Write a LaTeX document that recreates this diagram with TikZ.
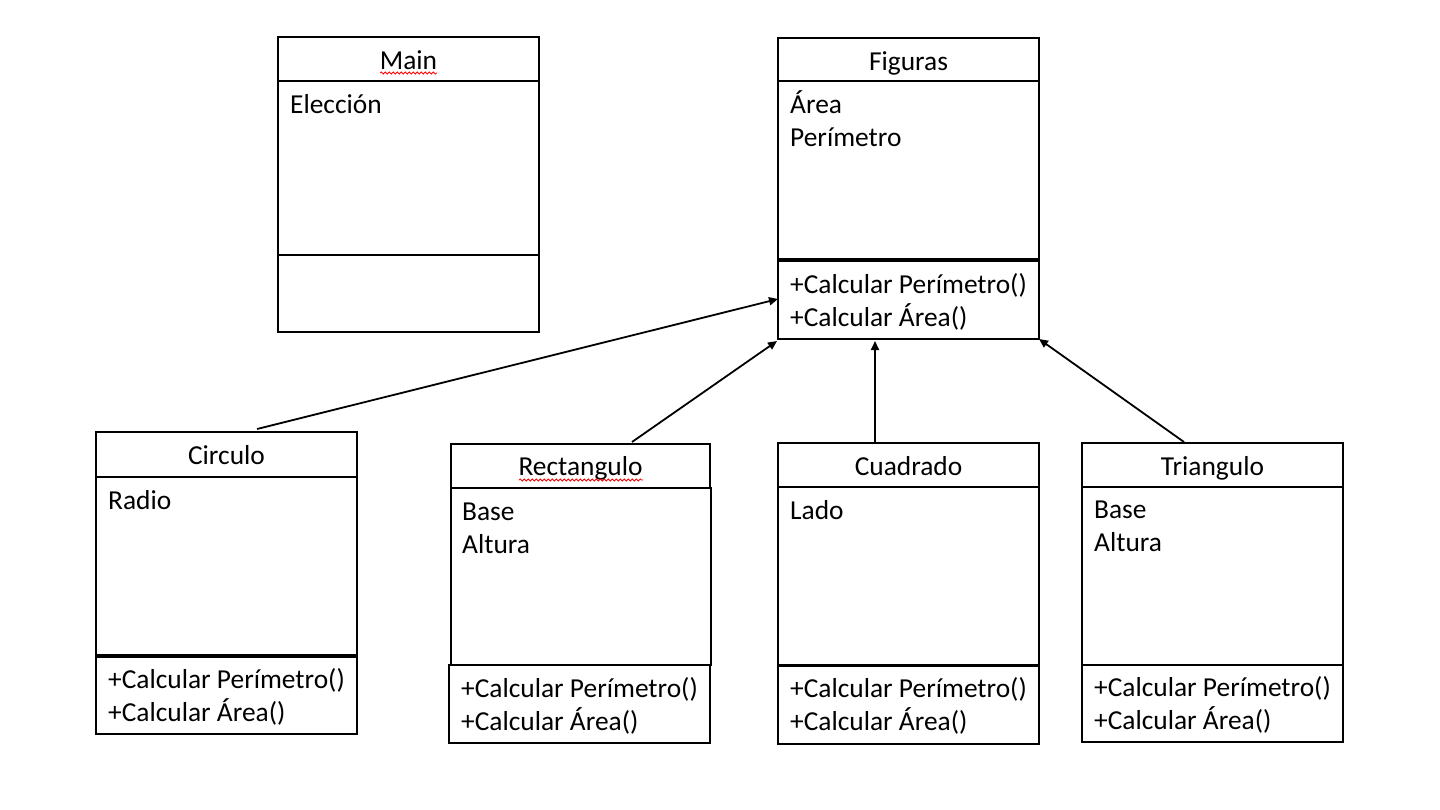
\documentclass[tikz,border=0pt]{standalone}
\usepackage{fontspec}
\setmainfont{Carlito}
\usetikzlibrary{arrows.meta,decorations.pathmorphing}
\begin{document}
\begin{tikzpicture}[x=1pt,y=-1pt,
 box/.style={draw, line width=2.2pt, anchor=north west, inner sep=0pt, outer sep=0pt},
 ttl/.style={anchor=base, inner sep=0pt, font=\fontsize{27.4}{33}\selectfont},
 txt/.style={anchor=base west, inner sep=0pt, font=\fontsize{27.4}{33}\selectfont},
 link/.style={line width=1.8pt, -{Triangle[length=9pt,width=8pt]}},
 thick sep/.style={line width=4pt},
 spell/.style={red, line width=0.8pt, decorate, decoration={snake, amplitude=1pt, segment length=4pt}}
]
\useasboundingbox[fill=white] (0,0) rectangle (1440,809);

% Main
\node[box, minimum width=261pt, minimum height=44pt] (maint) at (278,37) {};
\node[box, minimum width=261pt, minimum height=174pt] (maina) at (278,81) {};
\node[box, minimum width=261pt, minimum height=77pt] (mainm) at (278,255) {};
\node[ttl] (mainlbl) at (408.5,69) {Main};
\node[txt] (mainat1) at (290,113) {Elección};

% Figuras
\node[box, minimum width=261pt, minimum height=43pt] (figt) at (778,38) {};
\node[box, minimum width=261pt, minimum height=179pt] (figa) at (778,81) {};
\node[box, minimum width=261pt, minimum height=79pt] (figm) at (778,260) {};
\draw[thick sep] (figa.south west) -- (figa.south east);
\node[ttl] (figlbl) at (908.5,70) {Figuras};
\node[txt] (figat1) at (790,113) {Área};
\node[txt] (figat2) at (790,146) {Perímetro};
\node[txt] (figm1) at (790,293) {+Calcular Perímetro()};
\node[txt] (figm2) at (790,326) {+Calcular Área()};

% Circulo
\node[box, minimum width=261pt, minimum height=45pt] (cirt) at (96,432) {};
\node[box, minimum width=261pt, minimum height=179pt] (cira) at (96,477) {};
\node[box, minimum width=261pt, minimum height=78pt] (cirm) at (96,656) {};
\draw[thick sep] (cira.south west) -- (cira.south east);
\node[ttl] (cirlbl) at (226.5,464) {Circulo};
\node[txt] (cirat1) at (108,509) {Radio};
\node[txt] (cirm1) at (108,688) {+Calcular Perímetro()};
\node[txt] (cirm2) at (108,721) {+Calcular Área()};

% Rectangulo
\node[box, minimum width=259pt, minimum height=44pt] (rect) at (451,444) {};
\node[box, minimum width=260pt, minimum height=177pt] (reca) at (451,488) {};
\node[box, minimum width=261pt, minimum height=78pt] (recm) at (449,665) {};
\node[ttl] (reclbl) at (580.5,475) {Rectangulo};
\node[txt] (recat1) at (462,520) {Base};
\node[txt] (recat2) at (462,553) {Altura};
\node[txt] (recm1) at (461,697) {+Calcular Perímetro()};
\node[txt] (recm2) at (461,730) {+Calcular Área()};

% Cuadrado
\node[box, minimum width=261pt, minimum height=44pt] (cuat) at (778,443) {};
\node[box, minimum width=261pt, minimum height=178pt] (cuaa) at (778,487) {};
\node[box, minimum width=261pt, minimum height=79pt] (cuam) at (778,665) {};
\draw[line width=3pt] (cuaa.south west) -- (cuaa.south east);
\node[ttl] (cualbl) at (908.5,475) {Cuadrado};
\node[txt] (cuaat1) at (790,519) {Lado};
\node[txt] (cuam1) at (790,697) {+Calcular Perímetro()};
\node[txt] (cuam2) at (790,730) {+Calcular Área()};

% Triangulo
\node[box, minimum width=261pt, minimum height=44pt] (trit) at (1082,443) {};
\node[box, minimum width=261pt, minimum height=178pt] (tria) at (1082,487) {};
\node[box, minimum width=261pt, minimum height=77pt] (trim) at (1082,665) {};
\node[ttl] (trilbl) at (1212.5,475) {Triangulo};
\node[txt] (triat1) at (1094,518) {Base};
\node[txt] (triat2) at (1094,551) {Altura};
\node[txt] (trim1) at (1094,696) {+Calcular Perímetro()};
\node[txt] (trim2) at (1094,729) {+Calcular Área()};

% spell-check underlines
\draw[spell] (380,73) -- (437,73);
\draw[spell] (519,480) -- (643,480);

% connectors
\coordinate (cirtop) at (257,429);
\coordinate (figin1) at (778,299);
\coordinate (rectop) at (632,442);
\coordinate (figin2) at (777,341);
\coordinate (cuatop) at (875,442);
\coordinate (figin3) at (875,341);
\coordinate (tritop) at (1184,442);
\coordinate (figin4) at (1039,339);
\draw[link] (cirtop) -- (figin1);
\draw[link] (rectop) -- (figin2);
\draw[link] (cuatop) -- (figin3);
\draw[link] (tritop) -- (figin4);
\end{tikzpicture}
\end{document}
